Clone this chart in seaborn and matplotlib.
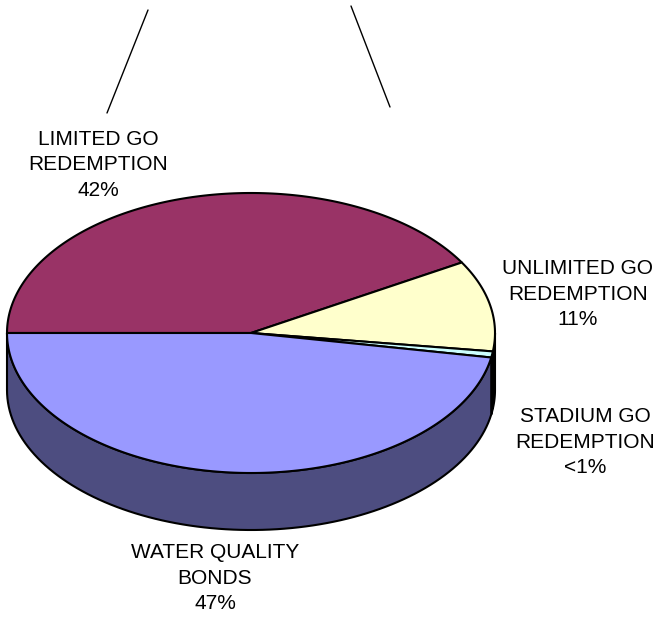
import numpy as np
import matplotlib
matplotlib.use("Agg")
import matplotlib.pyplot as plt
from matplotlib.patches import Polygon
import matplotlib.colors as mcolors
import seaborn as sns

# ---- data ----
categories = ["LIMITED GO\nREDEMPTION", "UNLIMITED GO\nREDEMPTION",
              "STADIUM GO\nREDEMPTION", "WATER QUALITY\nBONDS"]
values = [41.6, 10.5, 0.7, 47.2]
pct_labels = ["42%", "11%", "<1%", "47%"]
top_colors = ["#993366", "#FFFFCC", "#CCFFFF", "#9999FF"]

# ---- style ----
sns.set_theme(style="white")
plt.rcParams["font.family"] = ["Liberation Sans", "DejaVu Sans"]

W, H = 660, 620
fig = plt.figure(figsize=(W / 100, H / 100), dpi=100)
ax = fig.add_axes([0, 0, 1, 1])
ax.set_xlim(0, W)
ax.set_ylim(H, 0)
ax.axis("off")

# pie geometry (pixel layout)
cx, cy, rx, ry, depth = 251, 333, 244, 140, 57
start = 180.0
lw = 1.5

def pt(t, dy=0.0):
    r = np.radians(t)
    return cx + rx * np.cos(r), cy - ry * np.sin(r) + dy

def darker(c, f=0.5):
    r, g, b = mcolors.to_rgb(c)
    return (r * f, g * f, b * f)

fracs = np.array(values) / np.sum(values) * 360.0
bounds = [start]
for f in fracs:
    bounds.append(bounds[-1] - f)

# side faces (front half: angles between -180 and 0)
for i in range(len(values)):
    a0, a1 = bounds[i], bounds[i + 1]  # a0 > a1
    hi = min(a0, 0.0)
    lo = max(a1, -180.0)
    if hi <= lo:
        continue
    ts = np.linspace(hi, lo, 100)
    top = [pt(t) for t in ts]
    bot = [pt(t, depth) for t in ts[::-1]]
    poly = Polygon(top + bot, closed=True, facecolor=darker(top_colors[i]),
                   edgecolor="black", linewidth=lw, joinstyle="round", zorder=2)
    ax.add_patch(poly)

# top faces
for i in range(len(values)):
    a0, a1 = bounds[i], bounds[i + 1]
    ts = np.linspace(a0, a1, max(int(abs(a0 - a1)), 4))
    pts = [(cx, cy)] + [pt(t) for t in ts]
    poly = Polygon(pts, closed=True, facecolor=top_colors[i],
                   edgecolor="black", linewidth=lw, joinstyle="round", zorder=3)
    ax.add_patch(poly)

# labels
label_pos = [(98, 165), (578, 294), (585, 442), (215, 578)]
for cat, pct, (lx, ly) in zip(categories, pct_labels, label_pos):
    ax.text(lx, ly, cat + "\n" + pct, ha="center", va="center",
            fontsize=15, color="black", linespacing=1.45, zorder=5)

# stray line marks at top
ax.plot([148, 107], [10, 113], color="black", linewidth=1.0)
ax.plot([351, 390], [6, 107], color="black", linewidth=1.0)

fig.savefig("out.png", dpi=100, facecolor="white")
